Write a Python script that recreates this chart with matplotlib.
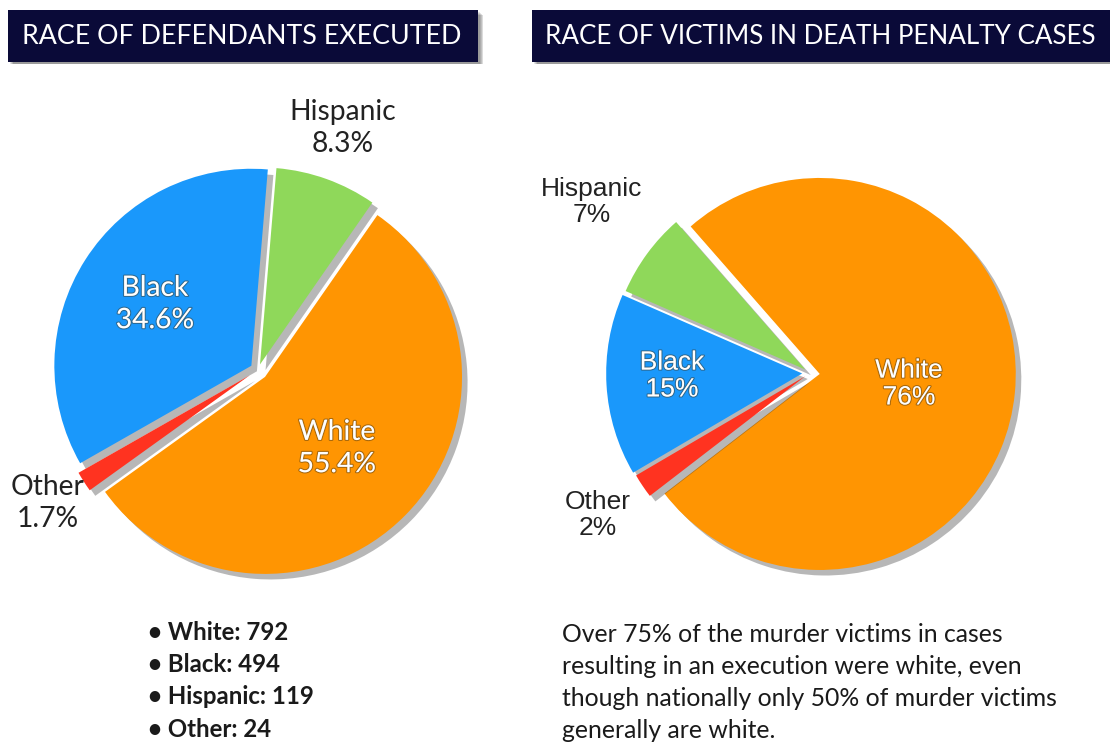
import matplotlib
matplotlib.use("Agg")
import matplotlib.pyplot as plt
import matplotlib.patheffects as pe
from matplotlib.patches import Rectangle

# ---------------- data ----------------
left_title = "RACE OF DEFENDANTS EXECUTED"
right_title = "RACE OF VICTIMS IN DEATH PENALTY CASES"

categories = ["White", "Hispanic", "Black", "Other"]
defendant_counts = [792, 119, 494, 24]
victim_pct = [76, 7, 15, 2]

bullet_cats = ["White", "Black", "Hispanic", "Other"]
bullet_counts = [792, 494, 119, 24]

note_lines = [
    "Over 75% of the murder victims in cases",
    "resulting in an execution were white, even",
    "though nationally only 50% of murder victims",
    "generally are white.",
]

colors = {"White": "#FF9502", "Hispanic": "#8FD85A", "Black": "#1A98FB", "Other": "#FF3320"}

W, H = 1110, 743
fig = plt.figure(figsize=(W / 100, H / 100), dpi=100)
fig.patch.set_facecolor("white")

SPAN = 1.5


def pie_axes(cx, cy, R):
    half = R * SPAN
    ax = fig.add_axes([(cx - half) / W, (H - cy - half) / H, 2 * half / W, 2 * half / H])
    return ax


def finish(ax):
    ax.set_xlim(-SPAN, SPAN)
    ax.set_ylim(-SPAN, SPAN)
    ax.set_aspect("auto")
    ax.axis("off")


shadow_fx = [pe.SimplePatchShadow(offset=(4, -4), shadow_rgbFace="#333333", alpha=0.35), pe.Normal()]

# ---------------- left pie ----------------
axL = pie_axes(258, 370, 197)
total = sum(defendant_counts)
wedgesL, _ = axL.pie(defendant_counts, colors=[colors[c] for c in categories],
                     startangle=215.7, counterclock=True,
                     explode=[0.05, 0.03, 0.04, 0.05], radius=1.0,
                     wedgeprops=dict(edgecolor="none"))
for w in wedgesL:
    w.set_path_effects(shadow_fx)
finish(axL)

# ---------------- right pie ----------------
axR = pie_axes(810, 373, 196)
wedgesR, _ = axR.pie(victim_pct, colors=[colors[c] for c in categories],
                     startangle=217.6, counterclock=True,
                     explode=[0.05, 0.03, 0.04, 0.03], radius=1.0,
                     wedgeprops=dict(edgecolor="none"))
for w in wedgesR:
    w.set_path_effects(shadow_fx)
finish(axR)

# ---------------- overlay ----------------
ov = fig.add_axes([0, 0, 1, 1], zorder=10)
ov.set_xlim(0, W)
ov.set_ylim(H, 0)
ov.axis("off")
ov.patch.set_alpha(0)

navy = "#0A0A38"
for (x0, x1) in [(8, 478), (532, 1115)]:
    for k, a in enumerate([0.10, 0.10, 0.12, 0.14]):
        ov.add_patch(Rectangle((x0 + 2 + k, 12 + k), x1 - x0, 52 - k, facecolor="#000000",
                               alpha=a, edgecolor="none"))
    ov.add_patch(Rectangle((x0, 10), x1 - x0, 52, facecolor=navy, edgecolor="none"))

ov.text(242, 37, left_title, color="white", fontsize=19.3, family="Lato",
        ha="center", va="center")
ov.text(545, 37, right_title, color="white", fontsize=18.7, family="Lato",
        ha="left", va="center")

pctL = {c: v / total * 100 for c, v in zip(categories, defendant_counts)}
pctR = dict(zip(categories, victim_pct))

inner_fx = [pe.withStroke(linewidth=1.6, foreground=(0.25, 0.2, 0.1, 0.45))]

# left labels
posL = {"Hispanic": (343, 128, "dark"), "Black": (155, 304, "light"),
        "White": (337, 448, "light"), "Other": (48, 503, "dark")}
for c, (x, y, style) in posL.items():
    t = ov.text(x, y, f"{c}\n{pctL[c]:.1f}%", ha="center", va="center",
                fontsize=20.3, family="Lato", linespacing=1.3,
                color="white" if style == "light" else "#222222")
    if style == "light":
        t.set_path_effects(inner_fx)

# right labels
posR = {"Hispanic": (592, 202, "dark"), "Black": (672, 376, "light"),
        "White": (909, 384, "light"), "Other": (598, 515, "dark")}
for c, (x, y, style) in posR.items():
    t = ov.text(x, y, f"{c}\n{pctR[c]:.0f}%", ha="center", va="center",
                fontsize=19, family="Liberation Sans", linespacing=1.15,
                color="white" if style == "light" else "#222222")
    if style == "light":
        t.set_path_effects(inner_fx)

# bullets
for i, (c, n) in enumerate(zip(bullet_cats, bullet_counts)):
    ov.text(148, 632 + i * 32.5, f"\u2022 {c}: {n}", ha="left", va="center",
            fontsize=17.3, family="Lato", fontweight="bold", color="#1a1a1a")

# note
for i, line in enumerate(note_lines):
    ov.text(562, 635 + i * 32, line, ha="left", va="center",
            fontsize=17.8, family="Lato", color="#1a1a1a")

fig.savefig("out.png", dpi=100)
